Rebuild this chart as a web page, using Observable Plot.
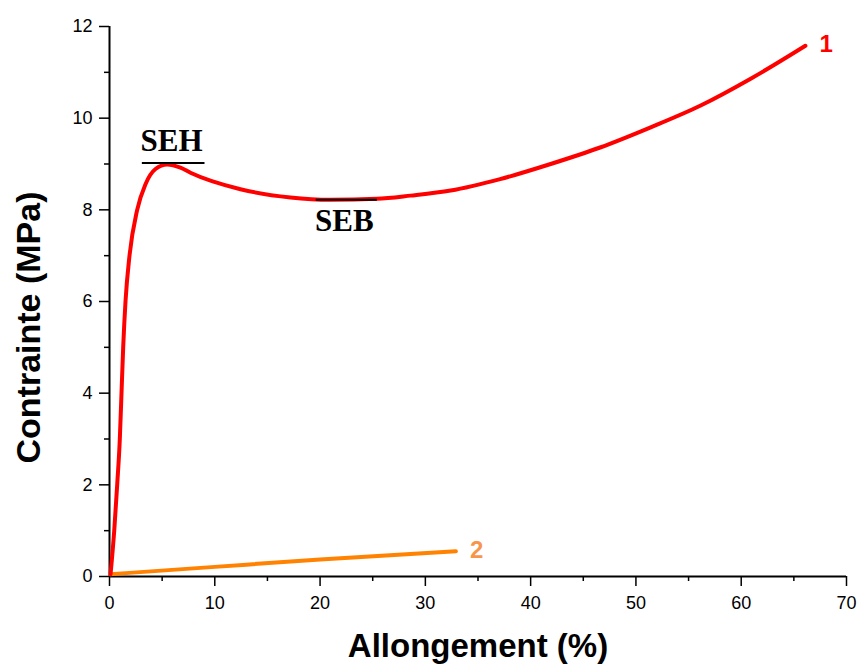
<!DOCTYPE html>
<html>
<head>
<meta charset="utf-8">
<script src="https://cdn.jsdelivr.net/npm/d3@7"></script>
<script src="https://cdn.jsdelivr.net/npm/@observablehq/plot@0.6"></script>
<style>
  html, body { margin: 0; padding: 0; background: #fff; }
</style>
</head>
<body>
<div id="chart"></div>
<script>
// Curve 1: elongation (%) and stress (MPa)
const curve1X = [0.1, 0.45, 0.73, 0.98, 1.14, 1.30, 1.52, 1.90, 2.63, 3.42, 4.37, 5.48, 6.74, 7.69, 12.44, 17.19, 20.99, 25.4, 28.6, 32.4, 37.1, 41.9, 46.6, 51.4, 56.1, 60.9, 66.1];
const curve1Y = [0.05, 1, 2, 3, 4, 5, 6, 7, 8, 8.56, 8.89, 8.99, 8.92, 8.81, 8.45, 8.27, 8.22, 8.24, 8.31, 8.42, 8.67, 9.0, 9.36, 9.80, 10.27, 10.86, 11.58];
// Curve 2
const curve2X = [0.1, 10, 20, 32.9];
const curve2Y = [0.05, 0.21, 0.37, 0.55];

const seriesNames = ["1", "2"];
const seriesColors = ["#ff0000", "#ff8200"];
const seriesLabelColors = ["#ff0000", "#f7964a"];

const xTicks = [0, 10, 20, 30, 40, 50, 60, 70];
const xMinorTicks = [5, 15, 25, 35, 45, 55, 65];
const yTicks = [0, 2, 4, 6, 8, 10, 12];
const yMinorTicks = [1, 3, 5, 7, 9, 11];

// Annotations: yield (SEH) and lower (SEB) stress
const annotNames = ["SEH", "SEB"];
const annotX1 = [3.12, 19.63];
const annotX2 = [9.07, 25.44];
const annotLineY = [9.02, 8.22];
const annotTextX = [5.89, 22.3];
const annotTextY = [9.28, 7.53];

const xTitle = "Allongement (%)";
const yTitle = "Contrainte (MPa)";

const c1 = curve1X.map((x, i) => ({x, y: curve1Y[i]}));
const c2 = curve2X.map((x, i) => ({x, y: curve2Y[i]}));
const ends = [
  {x: curve1X[curve1X.length - 1], y: curve1Y[curve1Y.length - 1], name: seriesNames[0], color: seriesLabelColors[0]},
  {x: curve2X[curve2X.length - 1], y: curve2Y[curve2Y.length - 1], name: seriesNames[1], color: seriesLabelColors[1]}
];
const annots = annotNames.map((n, i) => ({name: n, x1: annotX1[i], x2: annotX2[i], y: annotLineY[i], tx: annotTextX[i], ty: annotTextY[i]}));

const font = "'Liberation Sans', Arial, sans-serif";

const chart = Plot.plot({
  width: 858,
  height: 671,
  marginLeft: 109,
  marginRight: 12,
  marginTop: 26,
  marginBottom: 95,
  style: {fontFamily: font, fontSize: "18px", color: "black", background: "white"},
  x: {domain: [0, 70]},
  y: {domain: [0, 12]},
  marks: [
    Plot.axisX({ticks: xTicks, tickSize: 10, tickPadding: 10, fontSize: 18, strokeWidth: 1.5, label: null}),
    Plot.axisX({ticks: xMinorTicks, tickSize: 5, tickFormat: () => "", strokeWidth: 1.5, label: null}),
    Plot.axisY({ticks: yTicks, tickSize: 10, tickPadding: 7, fontSize: 18, strokeWidth: 1.5, label: null}),
    Plot.axisY({ticks: yMinorTicks, tickSize: 5, tickFormat: () => "", strokeWidth: 1.5, label: null}),
    Plot.ruleX([0], {stroke: "black", strokeWidth: 2}),
    Plot.ruleY([0], {stroke: "black", strokeWidth: 2}),
    Plot.line(c2, {x: "x", y: "y", stroke: seriesColors[1], strokeWidth: 4, curve: "monotone-x"}),
    Plot.line(c1, {x: "x", y: "y", stroke: seriesColors[0], strokeWidth: 4, curve: "monotone-x"}),
    Plot.text(ends, {x: "x", y: "y", text: "name", fill: "color", textAnchor: "start", dx: 14, dy: -1, fontSize: 24, fontWeight: "bold", fontFamily: font}),
    Plot.ruleY(annots, {x1: "x1", x2: "x2", y: "y", stroke: "black", strokeWidth: 2}),
    Plot.text(annots, {x: "tx", y: "ty", text: "name", lineAnchor: "bottom", fontSize: 31, fontWeight: "bold", fontFamily: "'Liberation Serif', 'Times New Roman', serif", fill: "black"}),
    Plot.text([xTitle], {frameAnchor: "bottom", textAnchor: "middle", lineAnchor: "middle", dy: 70, fontSize: 33, fontWeight: "bold", fontFamily: font, fill: "black"}),
    Plot.text([yTitle], {frameAnchor: "left", textAnchor: "middle", lineAnchor: "middle", rotate: -90, dx: -80, dy: 26, fontSize: 34, fontWeight: "bold", fontFamily: font, fill: "black"})
  ]
});
document.getElementById("chart").appendChild(chart);
</script>
</body>
</html>
